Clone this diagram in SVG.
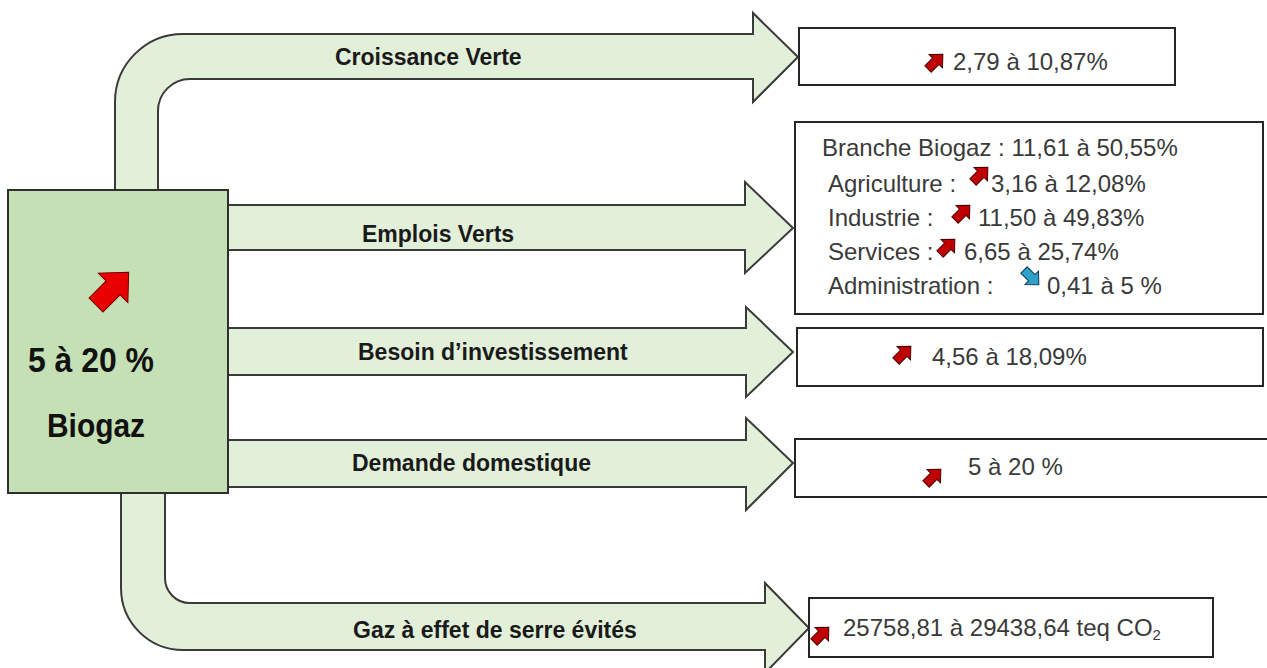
<svg xmlns="http://www.w3.org/2000/svg" xmlns:xlink="http://www.w3.org/1999/xlink" width="1267" height="668" viewBox="0 0 1267 668">
<style>
.flow{fill:#e2efd9;stroke:#3a3a3a;stroke-width:2;stroke-linejoin:miter}
.lbl{font-family:"Liberation Sans",Arial,sans-serif;font-weight:bold;font-size:23px;fill:#1a1a1a}
.box{fill:#ffffff;stroke:#262626;stroke-width:2}
.val{font-family:"Liberation Sans",Arial,sans-serif;font-size:24px;fill:#3a3a3a}
.main{fill:#c5e0b4;stroke:#2f2f2f;stroke-width:2}
.big{font-family:"Liberation Sans",Arial,sans-serif;font-weight:bold;fill:#111111}
.up{fill:#c00000;stroke:#4a0000;stroke-width:1}
.down{fill:#31a0c8;stroke:#0a3a55;stroke-width:1}
</style>
<defs>
<polygon id="arr" points="0,-4.5 11,-4.5 11,-9.5 21,0 11,9.5 11,4.5 0,4.5" stroke-linejoin="miter"/>
</defs>
<rect width="1267" height="668" fill="#ffffff"/>
<g id="connectors">
<path class="flow" d="M115,190 V102 A68,68 0 0 1 183,34 H753 V13 L798,57 L753,102 V79 H190 A32,32 0 0 0 158,111 V190"/>
<path class="flow" d="M228,205 H745 V182 L793,228 L745,273 V250 H228"/>
<path class="flow" d="M228,328 H746 V307 L793,352 L746,397 V375 H228"/>
<path class="flow" d="M228,440 H746 V418 L793,463 L746,510 V487 H228"/>
<path class="flow" d="M121,493 V588 A62,62 0 0 0 183,650 H765 V673 L809,628 L765,583 V603 H190 A25,25 0 0 1 165,578 V493"/>
<text class="lbl" x="335" y="65">Croissance Verte</text>
<text class="lbl" x="362" y="242">Emplois Verts</text>
<text class="lbl" x="358" y="360">Besoin d’investissement</text>
<text class="lbl" x="352" y="471">Demande domestique</text>
<text class="lbl" x="353" y="638">Gaz à effet de serre évités</text>
</g>
<g id="biogaz">
<rect class="main" x="8" y="190" width="220" height="303"/>
<use xlink:href="#arr" transform="translate(96,305) rotate(-45) scale(2.2)" fill="#e80000" stroke="#700000" stroke-width="0.45"/>
<text class="big" x="28" y="372" font-size="35" textLength="126" lengthAdjust="spacingAndGlyphs">5 à 20 %</text>
<text class="big" x="47" y="437" font-size="33" textLength="98" lengthAdjust="spacingAndGlyphs">Biogaz</text>
</g>
<g id="croissance-verte">
<rect class="box" x="799" y="28" width="376" height="57"/>
<use xlink:href="#arr" class="up" transform="translate(928,69) rotate(-45)"/>
<text class="val" x="953" y="70">2,79 à 10,87%</text>
</g>
<g id="emplois-verts">
<rect class="box" x="795" y="122" width="468" height="192"/>
<text class="val" x="822" y="156">Branche Biogaz : 11,61 à 50,55%</text>
<text class="val" x="828" y="192">Agriculture :</text>
<use xlink:href="#arr" class="up" transform="translate(973,182) rotate(-45)"/>
<text class="val" x="991" y="192">3,16 à 12,08%</text>
<text class="val" x="828" y="226">Industrie :</text>
<use xlink:href="#arr" class="up" transform="translate(955,220) rotate(-45)"/>
<text class="val" x="978" y="226">11,50 à 49,83%</text>
<text class="val" x="828" y="260">Services :</text>
<use xlink:href="#arr" class="up" transform="translate(940,254) rotate(-45)"/>
<text class="val" x="964" y="260">6,65 à 25,74%</text>
<text class="val" x="828" y="294">Administration :</text>
<use xlink:href="#arr" class="down" transform="translate(1024,270) rotate(45)"/>
<text class="val" x="1047" y="294">0,41 à 5 %</text>
</g>
<g id="besoin-investissement">
<rect class="box" x="797" y="328" width="466" height="58"/>
<use xlink:href="#arr" class="up" transform="translate(896,361) rotate(-45)"/>
<text class="val" x="932" y="365">4,56 à 18,09%</text>
</g>
<g id="demande-domestique">
<rect class="box" x="795" y="439" width="480" height="58"/>
<use xlink:href="#arr" class="up" transform="translate(926,484) rotate(-45)"/>
<text class="val" x="968" y="475">5 à 20 %</text>
</g>
<g id="gaz-effet-serre">
<rect class="box" x="809" y="598" width="404" height="59"/>
<use xlink:href="#arr" class="up" transform="translate(814,642) rotate(-45)"/>
<text class="val" x="843" y="636">25758,81 à 29438,64 teq CO<tspan font-size="15" dy="4">2</tspan></text>
</g>
</svg>
